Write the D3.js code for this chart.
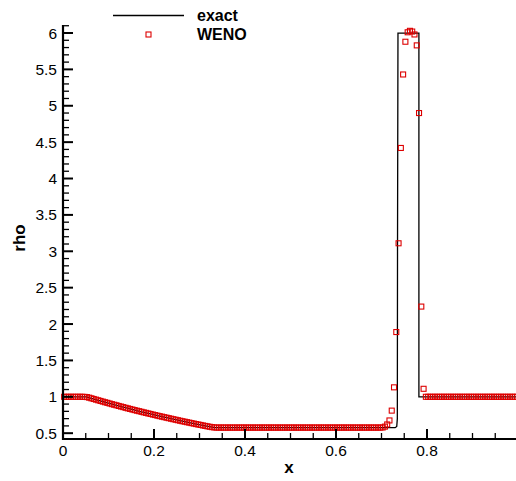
<!DOCTYPE html>
<html>
<head>
<meta charset="utf-8">
<script src="https://cdn.jsdelivr.net/npm/d3@7"></script>
<style>
  html, body { margin: 0; padding: 0; background: #fff; }
  svg { display: block; font-family: "Liberation Sans", Arial, sans-serif; }
</style>
</head>
<body>
<div id="chart"></div>
<script>
// ---------------- DATA ----------------
const seriesNames = ["exact", "WENO"];

// exact solution (x, rho) breakpoints
const exactX = [0, 0.051, 0.07, 0.09, 0.11, 0.13, 0.15, 0.17, 0.19, 0.21, 0.23, 0.25, 0.27, 0.29, 0.31, 0.3332,
  0.730, 0.7335, 0.7348, 0.7352, 0.7362, 0.7822, 0.7822, 0.9975];
const exactRho = [1, 1, 0.9652, 0.9297, 0.8952, 0.8617, 0.8293, 0.7978, 0.7673, 0.7377, 0.7091, 0.6813, 0.6545, 0.6284, 0.6033, 0.575,
  0.575, 0.592, 0.70, 3.0, 5.999, 5.999, 1.0, 1.0];

// WENO cell grid: 200 cells on [0,1]
const wenoN = 200;
const wenoX = d3.range(wenoN).map(i => (i + 0.5) / wenoN);
const wenoRho = [
  1.000, 1.000, 1.000, 1.000, 1.000, 1.000, 1.000, 1.000, 1.000, 0.999,
  0.996, 0.988, 0.979, 0.970, 0.961, 0.952, 0.943, 0.934, 0.925, 0.917,
  0.908, 0.899, 0.891, 0.883, 0.874, 0.866, 0.858, 0.849, 0.841, 0.833,
  0.825, 0.817, 0.809, 0.802, 0.794, 0.786, 0.779, 0.771, 0.764, 0.756,
  0.749, 0.741, 0.734, 0.727, 0.720, 0.713, 0.706, 0.699, 0.692, 0.685,
  0.678, 0.671, 0.664, 0.658, 0.651, 0.645, 0.638, 0.632, 0.625, 0.619,
  0.613, 0.606, 0.600, 0.594, 0.588, 0.583, 0.579, 0.577, 0.577, 0.577,
  0.577, 0.577, 0.577, 0.577, 0.577, 0.577, 0.577, 0.577, 0.577, 0.577,
  0.577, 0.577, 0.577, 0.577, 0.577, 0.577, 0.577, 0.577, 0.577, 0.577,
  0.577, 0.577, 0.577, 0.577, 0.577, 0.577, 0.577, 0.577, 0.577, 0.577,
  0.577, 0.577, 0.577, 0.577, 0.577, 0.577, 0.577, 0.577, 0.577, 0.577,
  0.577, 0.577, 0.577, 0.577, 0.577, 0.577, 0.577, 0.577, 0.577, 0.577,
  0.577, 0.577, 0.577, 0.577, 0.577, 0.577, 0.577, 0.577, 0.577, 0.577,
  0.577, 0.577, 0.577, 0.577, 0.577, 0.577, 0.577, 0.577, 0.577, 0.577,
  0.578, 0.590, 0.620, 0.675, 0.810, 1.130, 1.890, 3.110, 4.420, 5.430,
  5.880, 6.010, 6.030, 6.020, 5.980, 5.830, 4.900, 2.240, 1.110, 1.000,
  1.000, 1.000, 1.000, 1.000, 1.000, 1.000, 1.000, 1.000, 1.000, 1.000,
  1.000, 1.000, 1.000, 1.000, 1.000, 1.000, 1.000, 1.000, 1.000, 1.000,
  1.000, 1.000, 1.000, 1.000, 1.000, 1.000, 1.000, 1.000, 1.000, 1.000,
  1.000, 1.000, 1.000, 1.000, 1.000, 1.000, 1.000, 1.000, 1.000, 1.000
];

const xMajorTicks = [0, 0.2, 0.4, 0.6, 0.8];
const xTickLabels = ["0", "0.2", "0.4", "0.6", "0.8"];
const yMajorTicks = [0.5, 1, 1.5, 2, 2.5, 3, 3.5, 4, 4.5, 5, 5.5, 6];
const yTickLabels = ["0.5", "1", "1.5", "2", "2.5", "3", "3.5", "4", "4.5", "5", "5.5", "6"];
const xMinorTicks = [0.05, 0.1, 0.15, 0.25, 0.3, 0.35, 0.45, 0.5, 0.55, 0.65, 0.7, 0.75, 0.85, 0.9, 0.95];
const yMinorTicks = [0.6, 0.7, 0.8, 0.9, 1.1, 1.2, 1.3, 1.4, 1.6, 1.7, 1.8, 1.9, 2.1, 2.2, 2.3, 2.4,
  2.6, 2.7, 2.8, 2.9, 3.1, 3.2, 3.3, 3.4, 3.6, 3.7, 3.8, 3.9, 4.1, 4.2, 4.3, 4.4,
  4.6, 4.7, 4.8, 4.9, 5.1, 5.2, 5.3, 5.4, 5.6, 5.7, 5.8, 5.9, 6.1];

(function () {
// ---------------- LAYOUT ----------------
const W = 516, H = 481;
const mLeft = 63, mRight = 516, mTop = 25, mBottom = 439;
const red = "#dd0000";

const svg = d3.select("#chart").append("svg").attr("width", W).attr("height", H);

const x = d3.scaleLinear().domain([0, 0.9956]).range([mLeft, mRight]);
const y = d3.scaleLinear().domain([0.42, 6.11]).range([mBottom, mTop]);

// exact line
const line = d3.line().x((d, i) => x(exactX[i])).y((d, i) => y(exactRho[i]));
svg.append("path").datum(exactX).attr("d", line)
  .attr("fill", "none").attr("stroke", "#000").attr("stroke-width", 1.3);

// WENO squares
const s = 5;
svg.append("g").selectAll("rect").data(wenoRho).join("rect")
  .attr("x", (d, i) => x(wenoX[i]) - s / 2)
  .attr("y", d => y(d) - s / 2)
  .attr("width", s).attr("height", s)
  .attr("fill", "none").attr("stroke", red).attr("stroke-width", 1.1);

// axes lines
svg.append("line").attr("x1", mLeft).attr("x2", mLeft).attr("y1", mTop).attr("y2", mBottom + 1)
  .attr("stroke", "#000").attr("stroke-width", 2.2);
svg.append("line").attr("x1", mLeft - 1).attr("x2", mRight).attr("y1", mBottom).attr("y2", mBottom)
  .attr("stroke", "#000").attr("stroke-width", 2.2);

// y ticks (inward)
const gy = svg.append("g");
gy.selectAll("line.maj").data(yMajorTicks).join("line").attr("class", "maj")
  .attr("x1", mLeft).attr("x2", mLeft + 10).attr("y1", d => y(d)).attr("y2", d => y(d))
  .attr("stroke", "#000").attr("stroke-width", 2);
gy.selectAll("line.min").data(yMinorTicks).join("line").attr("class", "min")
  .attr("x1", mLeft).attr("x2", mLeft + 6).attr("y1", d => y(d)).attr("y2", d => y(d))
  .attr("stroke", "#000").attr("stroke-width", 1.3);
gy.selectAll("text").data(yMajorTicks).join("text")
  .attr("x", mLeft - 6).attr("y", d => y(d) + 5.5)
  .attr("text-anchor", "end").attr("font-size", 15.5).attr("fill", "#000")
  .text((d, i) => yTickLabels[i]);

// x ticks (inward)
const gx = svg.append("g");
gx.selectAll("line.maj").data(xMajorTicks).join("line").attr("class", "maj")
  .attr("x1", d => x(d)).attr("x2", d => x(d)).attr("y1", mBottom).attr("y2", mBottom - 10)
  .attr("stroke", "#000").attr("stroke-width", 2);
gx.selectAll("line.min").data(xMinorTicks).join("line").attr("class", "min")
  .attr("x1", d => x(d)).attr("x2", d => x(d)).attr("y1", mBottom).attr("y2", mBottom - 6)
  .attr("stroke", "#000").attr("stroke-width", 1.3);
gx.selectAll("text").data(xMajorTicks).join("text")
  .attr("x", d => x(d)).attr("y", 456)
  .attr("text-anchor", "middle").attr("font-size", 15.5).attr("fill", "#000")
  .text((d, i) => xTickLabels[i]);

// axis titles
svg.append("text").attr("x", 289).attr("y", 473).attr("text-anchor", "middle")
  .attr("font-size", 17).attr("font-weight", "bold").text("x");
svg.append("text").attr("transform", "translate(25,238) rotate(-90)").attr("text-anchor", "middle")
  .attr("font-size", 17).attr("font-weight", "bold").text("rho");

// legend
const lg = svg.append("g");
lg.append("line").attr("x1", 113).attr("x2", 184).attr("y1", 15.5).attr("y2", 15.5)
  .attr("stroke", "#000").attr("stroke-width", 1.3);
lg.append("rect").attr("x", 148.5 - s / 2).attr("y", 34.5 - s / 2).attr("width", s).attr("height", s)
  .attr("fill", "none").attr("stroke", red).attr("stroke-width", 1.1);
lg.append("text").attr("x", 197).attr("y", 20.5).attr("font-size", 16).attr("font-weight", "bold").text(seriesNames[0]);
lg.append("text").attr("x", 197).attr("y", 40).attr("font-size", 16).attr("font-weight", "bold").text(seriesNames[1]);
})();
</script>
</body>
</html>
